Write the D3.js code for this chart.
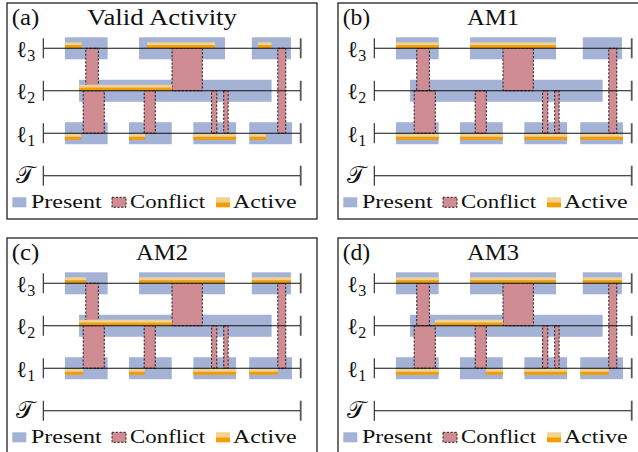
<!DOCTYPE html>
<html>
<head>
<meta charset="utf-8">
<script src="https://cdn.jsdelivr.net/npm/d3@7"></script>
<style>
  body { margin: 0; background: #fff; }
  text { font-family: "Liberation Serif", "DejaVu Serif", serif; fill: #111; }
</style>
</head>
<body>
<svg id="chart" width="638" height="452"></svg>
<script>
// Time runs over 0..100 (share of the observed span).
const timeDomain = [0, 100];
const laneKeys = ["l3", "l2", "l1", "T"];
const laneSubs = { l3: "3", l2: "2", l1: "1" };

// Intervals where each link is present.
const presentL3 = [[8.4, 25], [37.2, 70.6], [81, 96.2]];
const presentL2 = [[13.9, 88.7]];
const presentL1 = [[8.4, 25], [33.3, 49.9], [58.3, 74.9], [80, 96.6]];

// Conflicts between links: [upper link, lower link, start, end].
const conflicts = [
  ["l3", "l2", 16.5, 21.4],
  ["l2", "l1", 15.5, 23.7],
  ["l2", "l1", 39.2, 43.5],
  ["l3", "l2", 50.0, 61.8],
  ["l2", "l1", 65.4, 67.4],
  ["l2", "l1", 70.1, 71.8],
  ["l3", "l1", 91.1, 94.2]
];

// Active intervals for each scheme.
const activeValid = { l3: [[8.4, 14.9], [40.3, 66.7], [83.4, 88.7]], l2: [[13.9, 50.0]], l1: [[8.4, 14.6], [33.3, 39.5], [58.3, 74.9], [80.2, 86.5]] };
const activeAM1   = { l3: [[8.4, 25], [37.2, 70.6]], l2: [], l1: [[8.4, 25], [33.3, 49.9], [58.3, 74.9], [80, 96.6]] };
const activeAM2   = { l3: [[8.4, 16.6], [37.2, 70.6], [81, 96.2]], l2: [[13.9, 50.0]], l1: [[8.4, 15.5], [33.3, 39.5], [58.3, 74.9], [80, 91.1]] };
const activeAM3   = { l3: [[8.4, 25], [37.2, 70.6], [81, 96.2]], l2: [[23.6, 50.0]], l1: [[8.4, 25], [43.3, 50.0], [58.3, 74.9], [80, 91.1]] };

const panelTags   = ["(a)", "(b)", "(c)", "(d)"];
const panelTitles = ["Valid Activity", "AM1", "AM2", "AM3"];
const panelActive = [activeValid, activeAM1, activeAM2, activeAM3];
const legendLabels = ["Present", "Conflict", "Active"];

const present = { l3: presentL3, l2: presentL2, l1: presentL1 };

const COL = {
  present: "#a4b2d6",
  conflict: "#cf8c92",
  activeLight: "#f1d291",
  activeDark: "#f49d00",
  line: "#111",
  tick: "#555"
};

const svg = d3.select("#chart");
const W = 310, H = 216;
const offsets = [[7, 3], [338, 3], [7, 238], [338, 238]];

const x = d3.scaleLinear().domain(timeDomain).range([36.3, 293.7]);
const y = d3.scalePoint().domain(laneKeys).range([45.3, 172.7]);
const bandH = 22, tickH = 10, stripH = 3;

function drawPanel(i) {
  const g = svg.append("g").attr("transform", `translate(${offsets[i][0]},${offsets[i][1]})`);
  const active = panelActive[i];

  g.append("rect").attr("x", 0).attr("y", 0).attr("width", W).attr("height", H)
    .attr("fill", "#fff").attr("stroke", "#222").attr("stroke-width", 1.3);

  // present bands
  ["l3", "l2", "l1"].forEach(k => {
    g.selectAll(null).data(present[k]).enter().append("rect")
      .attr("x", d => x(d[0])).attr("width", d => x(d[1]) - x(d[0]))
      .attr("y", y(k) - bandH / 2).attr("height", bandH)
      .attr("fill", COL.present);
  });

  // conflicts
  g.selectAll(null).data(conflicts).enter().append("rect")
    .attr("x", d => x(d[2])).attr("width", d => x(d[3]) - x(d[2]))
    .attr("y", d => y(d[0])).attr("height", d => y(d[1]) - y(d[0]))
    .attr("fill", COL.conflict).attr("stroke", "#222").attr("stroke-width", 1)
    .attr("stroke-dasharray", "2.2,1.6");

  // active strips: above the line for l3/l2, below for l1
  ["l3", "l2", "l1"].forEach(k => {
    const top = k === "l1" ? y(k) + 0.6 : y(k) - 2 * stripH;
    const s = g.selectAll(null).data(active[k]).enter().append("g");
    s.append("rect").attr("x", d => x(d[0])).attr("width", d => x(d[1]) - x(d[0]))
      .attr("y", top).attr("height", stripH).attr("fill", COL.activeLight);
    s.append("rect").attr("x", d => x(d[0])).attr("width", d => x(d[1]) - x(d[0]))
      .attr("y", top + stripH).attr("height", stripH).attr("fill", COL.activeDark);
  });

  // lanes and end ticks
  laneKeys.forEach(k => {
    g.append("line").attr("x1", x(timeDomain[0])).attr("x2", x(timeDomain[1]))
      .attr("y1", y(k)).attr("y2", y(k)).attr("stroke", COL.line).attr("stroke-width", 1.1);
    timeDomain.forEach(t => {
      g.append("line").attr("x1", x(t)).attr("x2", x(t))
        .attr("y1", y(k) - tickH).attr("y2", y(k) + tickH)
        .attr("stroke", t === timeDomain[0] ? "#222" : COL.tick).attr("stroke-width", t === timeDomain[0] ? 1.1 : 1.8);
    });
  });

  // lane labels
  ["l3", "l2", "l1"].forEach(k => {
    const t = g.append("text").attr("x", 9.3).attr("y", y(k) + 8.5).attr("font-size", 23);
    t.append("tspan").text("ℓ");
    t.append("tspan").attr("font-size", 16).attr("dy", 4).text(laneSubs[k]);
  });
  g.append("text").attr("x", 8.5).attr("y", y("T") + 7).attr("font-size", 24)
    .text("𝒯");

  // tag and title
  g.append("text").attr("x", 4.7).attr("y", 22).attr("font-size", 23)
    .attr("textLength", 27.5).attr("lengthAdjust", "spacingAndGlyphs").text(panelTags[i]);
  const titleW = i === 0 ? 150 : 52;
  g.append("text").attr("x", 155 - titleW / 2).attr("y", 22).attr("font-size", 23)
    .attr("textLength", titleW).attr("lengthAdjust", "spacingAndGlyphs").text(panelTitles[i]);

  // legend
  const ly = 194.3, sw = 14, sh = 10, base = 205.3;
  g.append("rect").attr("x", 5.3).attr("y", ly).attr("width", sw).attr("height", sh).attr("fill", COL.present);
  g.append("rect").attr("x", 105).attr("y", ly).attr("width", sw).attr("height", sh)
    .attr("fill", COL.conflict).attr("stroke", "#222").attr("stroke-width", 1).attr("stroke-dasharray", "2.2,1.6");
  g.append("rect").attr("x", 209).attr("y", ly).attr("width", sw).attr("height", sh / 2).attr("fill", COL.activeLight);
  g.append("rect").attr("x", 209).attr("y", ly + sh / 2).attr("width", sw).attr("height", sh / 2).attr("fill", COL.activeDark);
  const lx = [24, 123, 226], lw = [70.7, 75, 63.7];
  legendLabels.forEach((s, j) => {
    g.append("text").attr("x", lx[j]).attr("y", base).attr("font-size", 19)
      .attr("textLength", lw[j]).attr("lengthAdjust", "spacingAndGlyphs").text(s);
  });
}

[0, 1, 2, 3].forEach(drawPanel);
</script>
</body>
</html>
